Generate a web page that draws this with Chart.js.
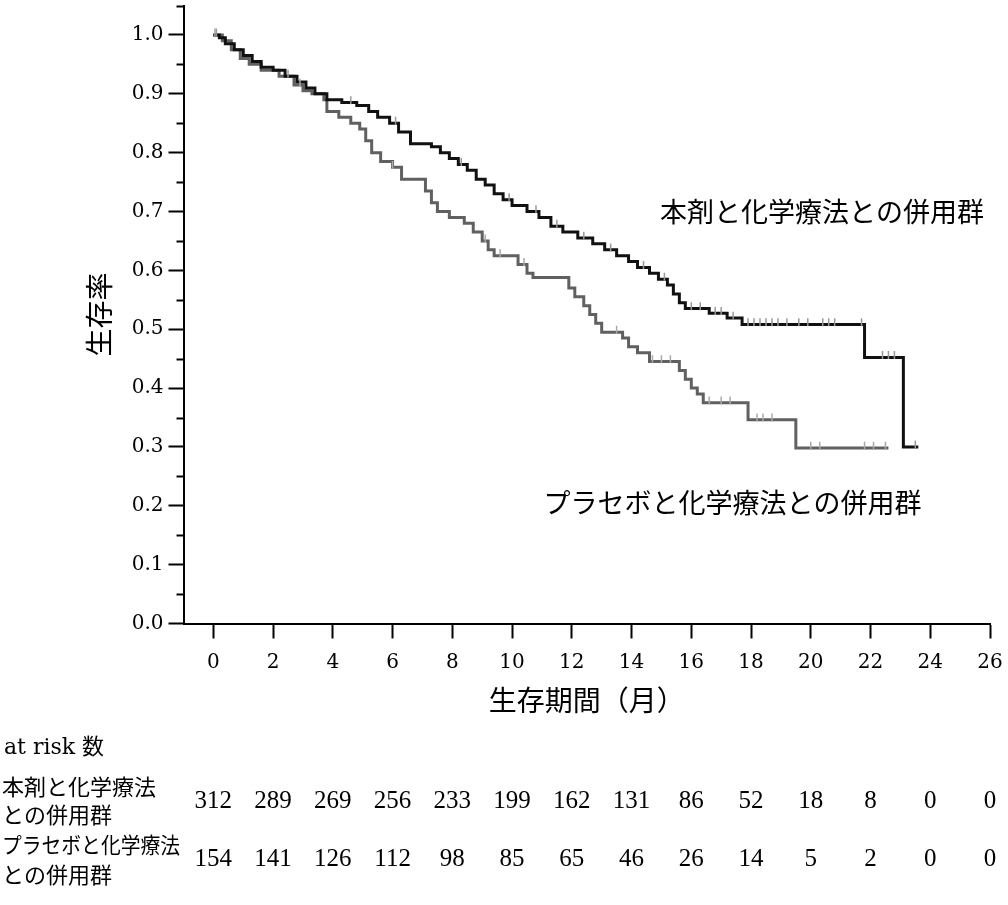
<!DOCTYPE html>
<html>
<head>
<meta charset="utf-8">
<script src="https://cdn.jsdelivr.net/npm/chart.js@4"></script>
<style>
  html, body { margin: 0; padding: 0; background: #fff; }
  #wrap { width: 1008px; height: 905px; }
</style>
</head>
<body>
<div id="wrap"><canvas id="kmChart" width="1008" height="905"></canvas></div>
<script>
// survival curves (time in months, survival after the step at that time)
const activeTimes = [0, 0.2, 0.4, 0.7, 1.0, 1.3, 1.6, 2.0, 2.4, 2.8, 3.1, 3.4, 3.8, 4.3, 4.8, 5.2, 5.5, 5.9, 6.2, 6.6,
  7.3, 7.6, 7.9, 8.2, 8.5, 8.8, 9.1, 9.4, 9.7, 10.0, 10.5, 10.9, 11.3, 11.7, 12.2, 12.7, 13.1, 13.5, 13.9, 14.2,
  14.6, 14.9, 15.2, 15.4, 15.6, 15.8, 16.6, 17.2, 17.7, 21.8, 23.1, 23.6];
const activeSurv = [1.0, 0.995, 0.985, 0.975, 0.965, 0.955, 0.945, 0.94, 0.93, 0.92, 0.91, 0.9, 0.89, 0.885, 0.88, 0.87, 0.86, 0.85, 0.835, 0.815,
  0.81, 0.8, 0.79, 0.78, 0.77, 0.755, 0.745, 0.73, 0.72, 0.71, 0.70, 0.69, 0.675, 0.665, 0.655, 0.645, 0.635, 0.625, 0.615, 0.605,
  0.595, 0.585, 0.575, 0.56, 0.545, 0.535, 0.527, 0.519, 0.508, 0.452, 0.30, 0.30];

const placeboTimes = [0, 0.3, 0.6, 0.9, 1.2, 1.6, 2.2, 2.7, 3.0, 3.3, 3.7, 3.8, 4.2, 4.6, 4.9, 5.1, 5.3, 5.6, 6.0, 6.3,
  7.1, 7.3, 7.5, 7.9, 8.4, 8.7, 9.0, 9.2, 9.4, 10.2, 10.5, 10.7, 11.9, 12.1, 12.4, 12.6, 12.8, 13.0, 13.7, 13.9,
  14.2, 14.6, 15.6, 15.8, 16.0, 16.2, 16.4, 17.9, 19.5, 22.6];
const placeboSurv = [1.0, 0.99, 0.975, 0.96, 0.95, 0.94, 0.93, 0.915, 0.905, 0.9, 0.89, 0.87, 0.86, 0.85, 0.84, 0.82, 0.80, 0.785, 0.775, 0.755,
  0.735, 0.715, 0.70, 0.69, 0.68, 0.665, 0.65, 0.635, 0.625, 0.61, 0.595, 0.588, 0.57, 0.555, 0.54, 0.525, 0.51, 0.495, 0.485, 0.47,
  0.46, 0.445, 0.43, 0.415, 0.40, 0.39, 0.375, 0.346, 0.298, 0.298];

// censoring marks
const activeCensor = [0.1, 2.5, 4.6, 6.1, 8.3, 9.9, 10.8, 11.5, 12.4, 13.3, 14.4, 15.1, 16.0, 16.3, 16.8, 17.0, 17.4, 17.9, 18.1, 18.3,
  18.5, 18.7, 18.9, 19.2, 19.6, 19.9, 20.4, 20.6, 20.8, 21.7, 22.4, 22.6, 22.8, 23.5];
const placeboCensor = [0.05, 2.9, 6.0, 9.1, 9.6, 10.4, 13.5, 14.7, 15.0, 15.3, 16.6, 17.0, 17.3, 18.2, 18.4, 18.7, 20.0, 20.3, 21.8, 22.1, 22.5];

// x / y axis ticks
const xTickValues = [0, 2, 4, 6, 8, 10, 12, 14, 16, 18, 20, 22, 24, 26];
const yTickValues = [0, 0.1, 0.2, 0.3, 0.4, 0.5, 0.6, 0.7, 0.8, 0.9, 1.0];
const yMinorValues = [0.05, 0.15, 0.25, 0.35, 0.45, 0.55, 0.65, 0.75, 0.85, 0.95, 1.05];

// at risk table
const riskTimes = [0, 2, 4, 6, 8, 10, 12, 14, 16, 18, 20, 22, 24, 26];
const riskActive = [312, 289, 269, 256, 233, 199, 162, 131, 86, 52, 18, 8, 0, 0];
const riskPlacebo = [154, 141, 126, 112, 98, 85, 65, 46, 26, 14, 5, 2, 0, 0];

const activeName = '本剤と化学療法との併用群';
const placeboName = 'プラセボと化学療法との併用群';

const SERIF = '"DejaVu Serif", "Noto Sans CJK JP", serif';
const TABLE = '"Liberation Serif", "Noto Sans CJK JP", serif';
const JP = '"Noto Sans CJK JP", "Liberation Serif", serif';

function toPoints(times, vals) {
  return times.map((t, i) => ({ x: t, y: vals[i] }));
}

function survAt(times, vals, t) {
  let s = vals[0];
  for (let i = 0; i < times.length; i++) {
    if (times[i] <= t) s = vals[i];
  }
  return s;
}

function censorPoints(ct, times, vals) {
  return ct.map(t => ({ x: t, y: survAt(times, vals, t) + 0.004 }));
}

const extras = {
  id: 'extras',
  afterDraw(chart) {
    const ctx = chart.ctx;
    const xs = chart.scales.x;
    const ys = chart.scales.y;
    ctx.save();

    // minor y ticks
    ctx.strokeStyle = '#000';
    ctx.lineWidth = 2;
    yMinorValues.forEach(v => {
      const py = Math.round(ys.getPixelForValue(v)) + 0.5;
      ctx.beginPath();
      ctx.moveTo(ys.right - 7, py);
      ctx.lineTo(ys.right, py);
      ctx.stroke();
    });

    ctx.fillStyle = '#000';

    // axis titles
    ctx.font = '28px ' + JP;
    ctx.textAlign = 'center';
    ctx.textBaseline = 'middle';
    ctx.fillText('生存期間（月）', (chart.chartArea.left + chart.chartArea.right) / 2, 700);

    ctx.save();
    ctx.translate(99, (chart.chartArea.top + chart.chartArea.bottom) / 2);
    ctx.rotate(-Math.PI / 2);
    ctx.fillText('生存率', 0, 0);
    ctx.restore();

    // curve labels
    ctx.font = '27px ' + JP;
    ctx.textAlign = 'left';
    ctx.fillText(activeName, xs.getPixelForValue(14.95), ys.getPixelForValue(0.70));
    ctx.fillText(placeboName, xs.getPixelForValue(11.05), ys.getPixelForValue(0.205));

    // at risk table
    ctx.font = '22px ' + SERIF;
    ctx.textAlign = 'left';
    ctx.fillText('at risk 数', 4, 748);
    ctx.font = '22px ' + JP;
    ctx.fillText('本剤と化学療法', 2, 787, 170);
    ctx.fillText('との併用群', 2, 815);
    ctx.fillText('プラセボと化学療法', 2, 845, 178);
    ctx.fillText('との併用群', 2, 875);

    ctx.font = '25px ' + TABLE;
    ctx.textAlign = 'center';
    riskTimes.forEach((t, i) => {
      const px = xs.getPixelForValue(t);
      ctx.fillText(String(riskActive[i]), px, 801);
      ctx.fillText(String(riskPlacebo[i]), px, 859);
    });

    ctx.restore();
  }
};

const ctx = document.getElementById('kmChart').getContext('2d');

new Chart(ctx, {
  type: 'line',
  data: {
    datasets: [
      {
        label: activeName,
        data: toPoints(activeTimes, activeSurv),
        stepped: true,
        borderColor: '#111',
        borderWidth: 3,
        pointRadius: 0,
        fill: false,
        order: 1
      },
      {
        label: placeboName,
        data: toPoints(placeboTimes, placeboSurv),
        stepped: true,
        borderColor: '#606060',
        borderWidth: 3,
        pointRadius: 0,
        fill: false,
        order: 2
      },
      {
        type: 'scatter',
        label: 'censor active',
        data: censorPoints(activeCensor, activeTimes, activeSurv),
        pointStyle: 'line',
        rotation: 90,
        pointRadius: 4,
        borderColor: '#999',
        borderWidth: 1.5,
        showLine: false,
        order: 0
      },
      {
        type: 'scatter',
        label: 'censor placebo',
        data: censorPoints(placeboCensor, placeboTimes, placeboSurv),
        pointStyle: 'line',
        rotation: 90,
        pointRadius: 4,
        borderColor: '#aaa',
        borderWidth: 1.5,
        showLine: false,
        order: 0
      }
    ]
  },
  options: {
    responsive: false,
    animation: false,
    layout: { padding: { left: 0, right: 18, top: 5, bottom: 0 } },
    plugins: {
      legend: { display: false },
      tooltip: { enabled: false }
    },
    scales: {
      x: {
        type: 'linear',
        min: -1,
        max: 26,
        afterBuildTicks: scale => { scale.ticks = xTickValues.map(v => ({ value: v })); },
        afterFit: scale => {
          scale.height = 905 - 623.5;
          scale.paddingLeft = 0;
          scale.paddingRight = 0;
        },
        border: { display: true, color: '#000', width: 2 },
        grid: { display: true, drawOnChartArea: false, drawTicks: true, tickLength: 15, tickWidth: 2, tickColor: '#000' },
        ticks: {
          color: '#000',
          font: { family: SERIF, size: 20 },
          padding: 12,
          maxRotation: 0,
          autoSkip: false
        }
      },
      y: {
        type: 'linear',
        min: 0,
        max: 1.05,
        afterBuildTicks: scale => { scale.ticks = yTickValues.map(v => ({ value: v })); },
        afterFit: scale => {
          scale.width = 183.5;
          scale.paddingTop = 0;
          scale.paddingBottom = 0;
        },
        border: { display: true, color: '#000', width: 2 },
        grid: { display: true, drawOnChartArea: false, drawTicks: true, tickLength: 15, tickWidth: 2, tickColor: '#000' },
        ticks: {
          color: '#000',
          font: { family: SERIF, size: 20 },
          padding: 5,
          autoSkip: false,
          callback: v => v.toFixed(1)
        }
      }
    }
  },
  plugins: [extras]
});
</script>
</body>
</html>
